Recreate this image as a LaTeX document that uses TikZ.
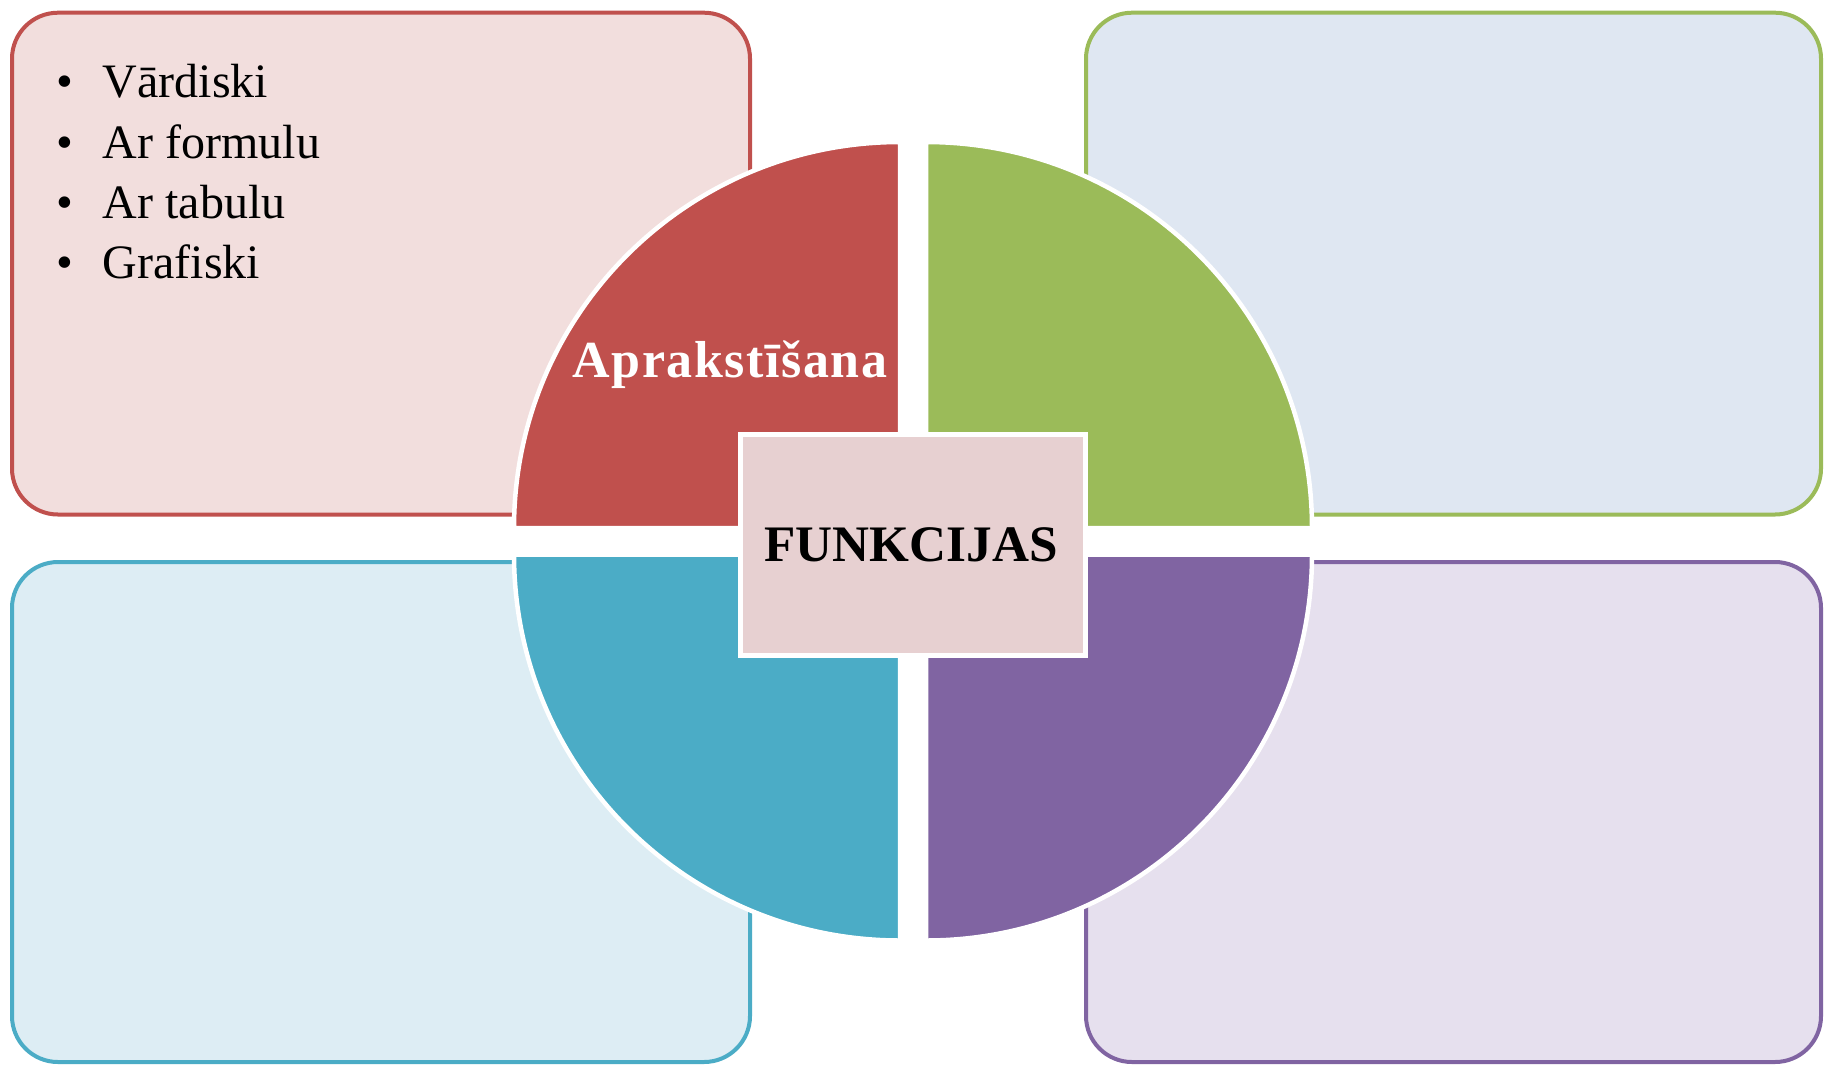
\documentclass[tikz,border=0pt]{standalone}
\usepackage{fontspec}
\setmainfont{Liberation Serif}
\newfontfamily\spacedfont[LetterSpace=3]{Liberation Serif}
\definecolor{redA}{HTML}{C0504D}
\definecolor{redL}{HTML}{F2DEDD}
\definecolor{greenA}{HTML}{9BBB59}
\definecolor{greenL}{HTML}{DFE7F2}
\definecolor{blueA}{HTML}{4BACC6}
\definecolor{blueL}{HTML}{DDEDF4}
\definecolor{purpleA}{HTML}{8064A2}
\definecolor{purpleL}{HTML}{E6E0EE}
\definecolor{centerF}{HTML}{E7D0D1}
\tikzset{
  panel/.style={rectangle, rounded corners=23pt, line width=2pt, inner sep=0pt, outer sep=0pt},
  quad/.style={draw=white, line width=2.25pt},
  bul/.style={anchor=base, inner sep=0pt, font=\fontsize{24}{29}\selectfont},
  item/.style={anchor=base west, inner sep=0pt, font=\fontsize{24}{29}\selectfont},
}
\begin{document}
\begin{tikzpicture}[x=0.5pt, y=-0.5pt]
\useasboundingbox (0,0) rectangle (1825,1067);
\fill[white] (0,0) rectangle (1825,1067);
% panels
\node[panel, draw=redA, fill=redL, minimum width=369pt, minimum height=250.9pt] (pRed) at (381,263.6) {};
\node[panel, draw=greenA, fill=greenL, minimum width=367.5pt, minimum height=250.9pt] (pGreen) at (1453.5,263.6) {};
\node[panel, draw=blueA, fill=blueL, minimum width=369pt, minimum height=250pt] (pBlue) at (381,812) {};
\node[panel, draw=purpleA, fill=purpleL, minimum width=367.5pt, minimum height=250pt] (pPurple) at (1453.5,812) {};
% quadrants
\filldraw[quad, fill=redA] (900,528) -- ++(-386,0) arc[start angle=180, end angle=270, radius=386] -- cycle;
\filldraw[quad, fill=greenA] (926,528) -- ++(386,0) arc[start angle=0, end angle=-90, radius=386] -- cycle;
\filldraw[quad, fill=blueA] (900,554.5) -- ++(-386,0) arc[start angle=180, end angle=90, radius=386] -- cycle;
\filldraw[quad, fill=purpleA] (926,554.5) -- ++(386,0) arc[start angle=0, end angle=90, radius=386] -- cycle;
% center
\node[rectangle, draw=white, fill=centerF, line width=2.5pt, minimum width=172.5pt, minimum height=110.5pt, inner sep=0pt, outer sep=0pt] (ctr) at (913,545) {};
\node[anchor=base, inner sep=0pt, font=\fontsize{25.6}{30}\selectfont\bfseries] (title) at (911,561) {FUNKCIJAS};
\node[anchor=base, inner sep=0pt, text=white, font=\fontsize{26}{31}\selectfont\spacedfont\bfseries] (apr) at (730,377) {Aprakstīšana};
% bullet list
\node[bul] (b1) at (65,97) {\textbullet};
\node[bul] (b2) at (65,158) {\textbullet};
\node[bul] (b3) at (65,218) {\textbullet};
\node[bul] (b4) at (65,278) {\textbullet};
\node[item] (t1) at (102.5,97) {Vārdiski};
\node[item] (t2) at (102.5,158) {Ar formulu};
\node[item] (t3) at (102.5,218) {Ar tabulu};
\node[item] (t4) at (102.5,278) {Grafiski};
\end{tikzpicture}
\end{document}
